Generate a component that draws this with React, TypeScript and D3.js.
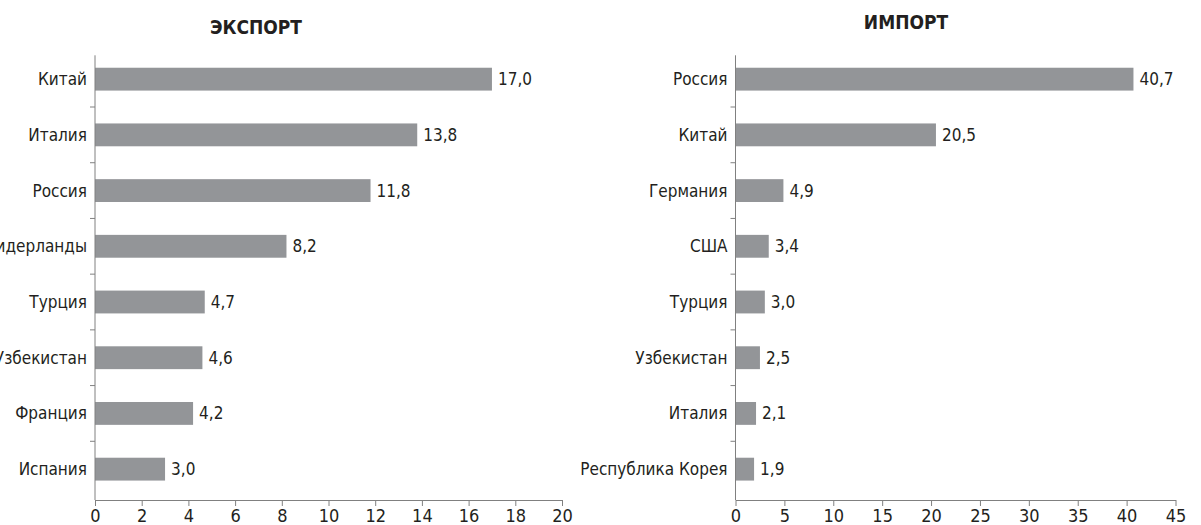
import React, { useEffect, useRef } from 'react';
import * as d3 from 'd3';

const exportTitle = 'ЭКСПОРТ';
const exportCountries = ['Китай', 'Италия', 'Россия', 'Нидерланды', 'Турция', 'Узбекистан', 'Франция', 'Испания'];
const exportValues = [17.0, 13.8, 11.8, 8.2, 4.7, 4.6, 4.2, 3.0];
const exportTicks = [0, 2, 4, 6, 8, 10, 12, 14, 16, 18, 20];

const importTitle = 'ИМПОРТ';
const importCountries = ['Россия', 'Китай', 'Германия', 'США', 'Турция', 'Узбекистан', 'Италия', 'Республика Корея'];
const importValues = [40.7, 20.5, 4.9, 3.4, 3.0, 2.5, 2.1, 1.9];
const importTicks = [0, 5, 10, 15, 20, 25, 30, 35, 40, 45];

const FONT = '"Liberation Sans Narrow", "DejaVu Sans Condensed", sans-serif';
const TEXT = '#231f20';
const BAR = '#939598';
const AXIS = '#808080';

const fmt = (v: number) => v.toFixed(1).replace('.', ',');

function drawPanel(svg: any, opts: {
  title: string; titleX: number; titleY: number;
  countries: string[]; values: number[]; ticks: number[];
  x0: number; x1: number;
}) {
  const top = 51.3, bottom = 497;
  const g = svg.append('g');
  const x = d3.scaleLinear().domain([opts.ticks[0], opts.ticks[opts.ticks.length - 1]]).range([opts.x0, opts.x1]);
  const y = d3.scaleBand().domain(opts.countries).range([top, bottom]).paddingInner(0.59).paddingOuter(0.295);

  g.append('text')
    .attr('x', opts.titleX).attr('y', opts.titleY)
    .attr('text-anchor', 'middle')
    .attr('font-family', '"DejaVu Sans Condensed", sans-serif')
    .attr('font-weight', 'bold')
    .attr('font-size', 19)
    .attr('fill', TEXT)
    .text(opts.title);

  const data = opts.countries.map((c, i) => ({ c, v: opts.values[i] }));

  g.selectAll('rect.bar').data(data).enter().append('rect')
    .attr('class', 'bar')
    .attr('x', x(0))
    .attr('y', d => y(d.c))
    .attr('width', d => x(d.v) - x(0))
    .attr('height', y.bandwidth())
    .attr('fill', BAR);

  g.selectAll('text.val').data(data).enter().append('text')
    .attr('class', 'val')
    .attr('x', d => x(d.v) + 6)
    .attr('y', d => y(d.c)! + y.bandwidth() / 2)
    .attr('dy', '0.35em')
    .attr('font-family', FONT).attr('font-size', 17).attr('fill', TEXT)
    .text(d => fmt(d.v));

  g.selectAll('text.cat').data(data).enter().append('text')
    .attr('class', 'cat')
    .attr('x', x(0) - 8)
    .attr('y', d => y(d.c)! + y.bandwidth() / 2)
    .attr('dy', '0.35em')
    .attr('text-anchor', 'end')
    .attr('font-family', FONT).attr('font-size', 17).attr('fill', TEXT)
    .text(d => d.c);

  // vertical axis with ticks between categories
  const step = y.step();
  g.append('line')
    .attr('x1', x(0)).attr('x2', x(0)).attr('y1', top + 4).attr('y2', bottom + 3)
    .attr('stroke', AXIS).attr('stroke-width', 1);
  g.selectAll('line.sep').data(d3.range(1, opts.countries.length)).enter().append('line')
    .attr('class', 'sep')
    .attr('x1', x(0) - 5).attr('x2', x(0))
    .attr('y1', i => top + i * step).attr('y2', i => top + i * step)
    .attr('stroke', AXIS);

  const ax = g.append('g')
    .attr('transform', `translate(0,${bottom + 3})`)
    .call(d3.axisBottom(x).tickValues(opts.ticks).tickSize(6).tickSizeOuter(0).tickPadding(3).tickFormat(d => String(d)));
  ax.select('.domain').attr('stroke', AXIS);
  ax.selectAll('.tick line').attr('stroke', AXIS);
  ax.selectAll('.tick text')
    .attr('font-family', FONT).attr('font-size', 18).attr('fill', TEXT);
}

export default function App() {
  const ref = useRef<SVGSVGElement>(null);

  useEffect(() => {
    const svg = d3.select(ref.current);
    svg.selectAll('*').remove();
    drawPanel(svg, {
      title: exportTitle, titleX: 256, titleY: 34,
      countries: exportCountries, values: exportValues, ticks: exportTicks,
      x0: 95, x1: 562,
    });
    drawPanel(svg, {
      title: importTitle, titleX: 906, titleY: 29,
      countries: importCountries, values: importValues, ticks: importTicks,
      x0: 735.5, x1: 1175.5,
    });
  }, []);

  return (
    <svg ref={ref} width={1201} height={525}
      style={{ position: 'absolute', left: 0, top: 0, background: '#fff' }} />
  );
}
